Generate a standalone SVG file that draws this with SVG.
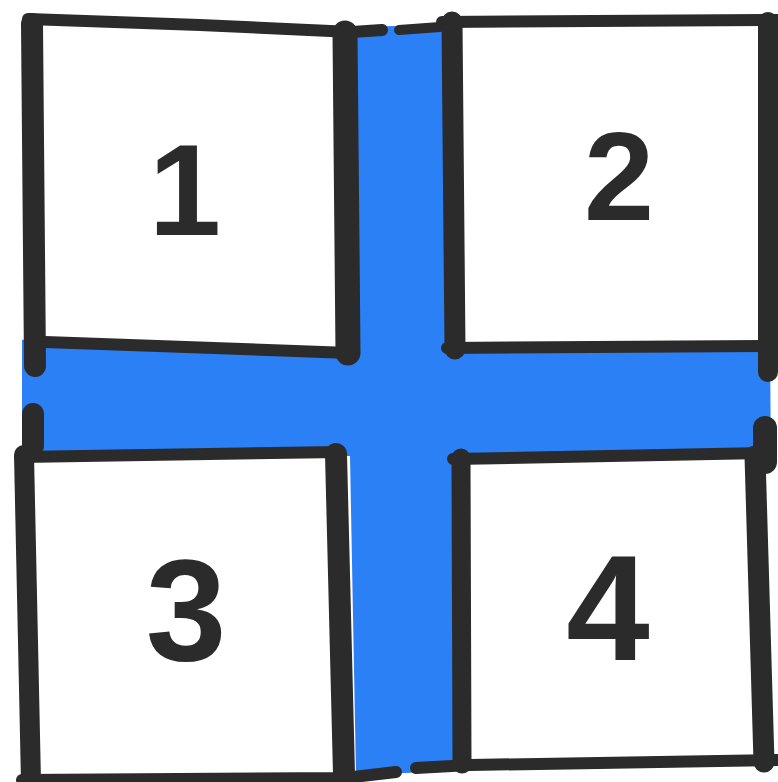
<svg xmlns="http://www.w3.org/2000/svg" width="778" height="782" viewBox="0 0 778 782">
  <style>
    .ink { fill: none; stroke: #2b2b2b; stroke-linecap: round; stroke-linejoin: round; }
    .paper { fill: #ffffff; stroke: none; }
    .num { font-family: "Liberation Sans", Arial, sans-serif; font-weight: 700; fill: #2b2b2b; text-anchor: middle; }
  </style>
  <rect x="0" y="0" width="778" height="782" fill="#ffffff"/>
  <g id="cross">
    <path fill="#2b80f5" d="M 350 27 L 440 25 L 467 28 L 464 200 L 463 345 L 700 338 L 770 345 L 771 470 L 745 468 L 460 464 L 456 770 L 430 772 L 356 775 L 350 456 L 22 456 L 22 340 L 40 336 Q 44 322 52 328 Q 56 334 50 340 L 350 352 Z"/>
  </g>
  <g id="box1">
    <polygon class="paper" points="34,22 347,34 348,350 40,342"/>
    <path class="ink" stroke-width="12" d="M 28 19 L 200 25 L 352 32 L 382 30"/>
    <path class="ink" stroke-width="22" d="M 32 24 L 35 366"/>
    <path class="ink" stroke-width="25" d="M 345 33 L 348 353"/>
    <path class="ink" stroke-width="12" d="M 45 342 L 350 353"/>
    <text class="num" x="185" y="235" font-size="130">1</text>
  </g>
  <g id="box2">
    <polygon class="paper" points="452,22 768,20 769,346 455,348"/>
    <path class="ink" stroke-width="10" d="M 399 30 L 440 27"/>
    <path class="ink" stroke-width="12" d="M 442 22 L 778 20"/>
    <path class="ink" stroke-width="21" d="M 452 22 L 455 349"/>
    <path class="ink" stroke-width="20" d="M 768 22 L 768 372"/>
    <path class="ink" stroke-width="12" d="M 447 348 L 772 346"/>
    <text class="num" x="619" y="220" font-size="126">2</text>
  </g>
  <g id="box3">
    <polygon class="paper" points="24,457 336,452 344,776 31,779"/>
    <path class="ink" stroke-width="22" d="M 33 414 L 33 446"/>
    <path class="ink" stroke-width="12" d="M 20 457 L 340 452"/>
    <path class="ink" stroke-width="20" d="M 24 455 L 31 782"/>
    <path class="ink" stroke-width="22" d="M 336 454 L 344 774"/>
    <path class="ink" stroke-width="12" d="M 22 780 L 345 778 L 396 772"/>
    <text class="num" x="186" y="660" font-size="145">3</text>
  </g>
  <g id="box4">
    <polygon class="paper" points="461,459 756,454 764,761 462,764"/>
    <path class="ink" stroke-width="24" d="M 765 428 L 765 462"/>
    <path class="ink" stroke-width="12" d="M 453 459 L 765 453"/>
    <path class="ink" stroke-width="19" d="M 461 458 L 462 764"/>
    <path class="ink" stroke-width="21" d="M 755 456 L 764 762"/>
    <path class="ink" stroke-width="12" d="M 416 768 L 470 765 L 778 760"/>
    <text class="num" x="608" y="660" font-size="150">4</text>
  </g>
</svg>
